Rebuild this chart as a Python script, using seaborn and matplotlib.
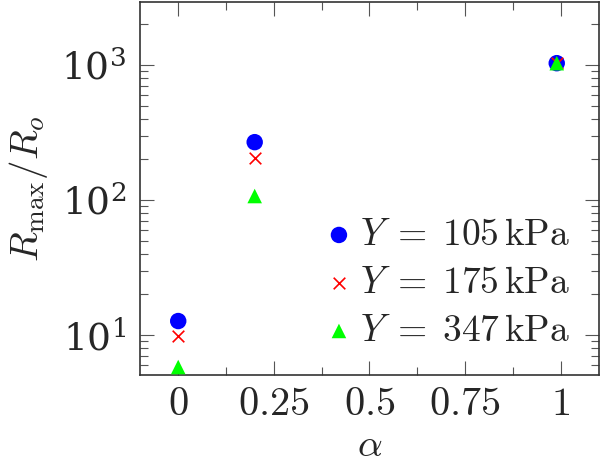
import matplotlib
matplotlib.use("Agg")
import matplotlib.pyplot as plt
import matplotlib.ticker as mticker
import pandas as pd
import seaborn as sns

# values
alpha = [0.0, 0.2, 0.99]
r_105 = [12.7, 268, 1030]
r_175 = [9.8, 205, 1030]
r_347 = [5.8, 107, 1030]
labels = [r"$Y\;=\;105\,\mathrm{kPa}$", r"$Y\;=\;175\,\mathrm{kPa}$", r"$Y\;=\;347\,\mathrm{kPa}$"]
x_ticks = [0, 0.25, 0.5, 0.75, 1]
x_tick_labels = ["0", "0.25", "0.5", "0.75", "1"]

sns.set_theme(style="ticks")
plt.rcParams["mathtext.fontset"] = "cm"
plt.rcParams["font.family"] = ["DejaVu Serif"]

fig = plt.figure(figsize=(6, 4.63), dpi=100)
ax = fig.add_axes([0.2333, 0.19, 0.7647, 0.806])

series = [
    (r_105, labels[0], "o", (0, 0, 1), 140),
    (r_175, labels[1], "x", (1, 0, 0), 70),
    (r_347, labels[2], "^", (0, 1, 0), 110),
]
for vals, lab, mk, col, size in series:
    df = pd.DataFrame({"alpha": alpha, "R": vals})
    kw = {"edgecolor": "none"} if mk != "x" else {"linewidth": 1.2}
    sns.scatterplot(data=df, x="alpha", y="R", marker=mk, color=col, s=size,
                    label=lab, ax=ax, zorder=3, **kw)

ax.set_yscale("log")
ax.set_xlim(-0.1, 1.1)
ax.set_ylim(5.06, 2930)
ax.set_xticks(x_ticks)
ax.set_xticklabels(["$" + t + "$" for t in x_tick_labels])
ax.xaxis.set_minor_locator(mticker.MultipleLocator(0.125))
ax.yaxis.set_major_locator(mticker.LogLocator(base=10))
ax.yaxis.set_major_formatter(mticker.LogFormatterMathtext())
ax.yaxis.set_minor_locator(mticker.LogLocator(base=10, subs=range(2, 10)))
ax.yaxis.set_minor_formatter(mticker.NullFormatter())

ax.tick_params(which="both", direction="in", top=True, right=True,
               color="#555555", pad=10)
ax.tick_params(axis="x", labelsize=29, pad=8)
ax.tick_params(axis="y", labelsize=27)
ax.tick_params(which="major", length=10, width=0.8)
ax.tick_params(which="minor", length=6, width=0.8)
for sp in ax.spines.values():
    sp.set_linewidth(1.2)
    sp.set_color("#333333")

ax.set_xlabel(r"$\alpha$", fontsize=28, labelpad=3)
ax.set_ylabel(r"$R_{\max}/R_o$", fontsize=28, labelpad=8)

ax.legend(loc="lower right", frameon=False, fontsize=27, handletextpad=0.0,
          labelspacing=0.32, borderaxespad=0.2, handlelength=1.1,
          bbox_to_anchor=(0.985, 0.01))

fig.savefig("out.png", dpi=100)
